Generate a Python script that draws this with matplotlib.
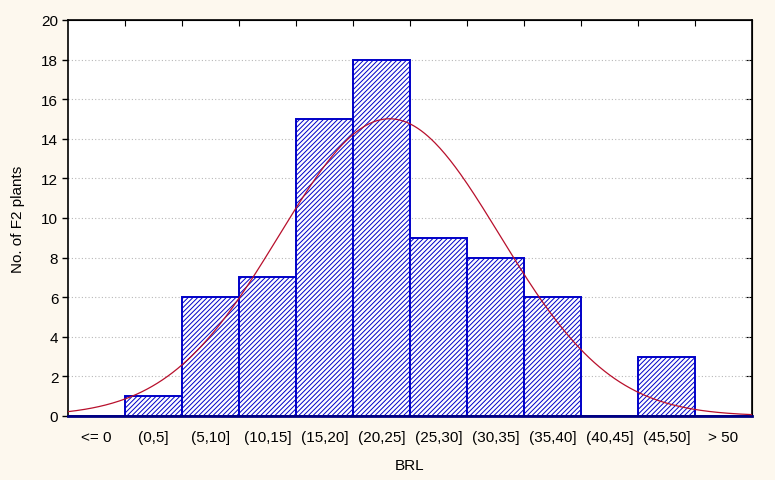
import numpy as np
import matplotlib.pyplot as plt

plt.rcParams['font.family'] = ['Liberation Sans', 'DejaVu Sans']
plt.rcParams['hatch.linewidth'] = 0.7

categories = ['<= 0', '(0,5]', '(5,10]', '(10,15]', '(15,20]', '(20,25]',
              '(25,30]', '(30,35]', '(35,40]', '(40,45]', '(45,50]', '> 50']
counts = [0, 1, 6, 7, 15, 18, 9, 8, 6, 0, 3, 0]
# fitted normal: mean and sd of BRL, bin width 5
fit_mean = 23.2
fit_sd = 9.7
bin_width = 5

fig = plt.figure(figsize=(7.75, 4.81), dpi=100, facecolor='#FDF8EE')
ax = fig.add_axes([68/775, 1 - 417/481, 684/775, 396/481])
ax.set_facecolor('white')

pos = np.arange(len(categories))
ax.bar(pos + 0.5, counts, width=1.0, color='white', edgecolor='#0000C8',
       linewidth=1.4, hatch='///////', zorder=2)

# normal curve in category coordinates: category i covers BRL (5(i-1), 5i]
brl = np.linspace(-5, 55, 400)
n = sum(counts)
dens = n * bin_width / (fit_sd * np.sqrt(2 * np.pi)) * np.exp(-0.5 * ((brl - fit_mean) / fit_sd) ** 2)
ax.plot(brl / bin_width + 1, dens, color='#B8102C', linewidth=0.9, zorder=3)

ax.set_xlim(0, len(categories))
ax.set_ylim(0, 20)
ax.set_yticks(range(0, 21, 2))
ax.set_xticks(pos + 0.5)
ax.set_xticklabels(categories)
ax.tick_params(axis='x', length=0, pad=10, labelsize=11)
ax.tick_params(axis='y', direction='out', length=4, width=1, labelsize=11, pad=3)

for yv in range(2, 20, 2):
    ax.axhline(yv, color='#B8B8B8', linestyle=(0, (1, 2)), linewidth=0.8, zorder=1)

# inner ticks on top and right, as in the original software
ax_top = ax.secondary_xaxis('top')
ax_top.set_xticks(pos[1:])
ax_top.tick_params(direction='in', length=4, labeltop=False)
ax_right = ax.secondary_yaxis('right')
ax_right.set_yticks(range(2, 20, 2))
ax_right.tick_params(direction='in', length=4, labelright=False)

for s in ['left', 'top', 'right']:
    ax.spines[s].set_color('black')
    ax.spines[s].set_linewidth(1.2)
ax.spines['bottom'].set_color('#000080')
ax.spines['bottom'].set_linewidth(2)

ax.set_xlabel('BRL', fontsize=11, labelpad=10)
ax.set_ylabel('No. of F2 plants', fontsize=11, labelpad=12)

fig.savefig('out.png', dpi=100, facecolor=fig.get_facecolor())
